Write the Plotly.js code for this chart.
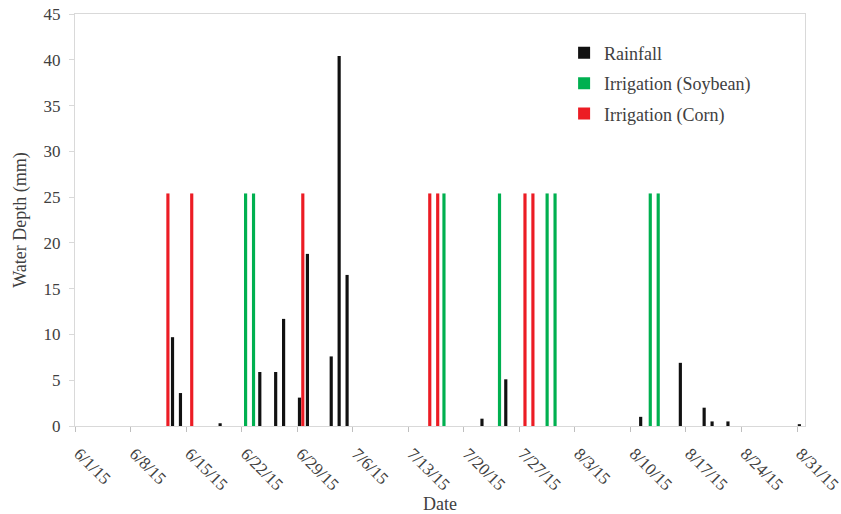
<!DOCTYPE html>
<html>
<head>
<meta charset="utf-8">
<script src="https://cdn.plot.ly/plotly-3.0.1.min.js"></script>
<style>html,body{margin:0;padding:0;background:#fff;}#chart{width:841px;height:514px;}</style>
</head>
<body>
<div id="chart"></div>
<script>
// Data (water depth in mm)
const rainDates = ['2015-06-13','2015-06-14','2015-06-19','2015-06-24','2015-06-26','2015-06-27','2015-06-29','2015-06-30','2015-07-03','2015-07-04','2015-07-05','2015-07-22','2015-07-25','2015-08-11','2015-08-16','2015-08-19','2015-08-20','2015-08-22','2015-08-31'];
const rainMm = [9.7,3.6,0.3,5.9,5.9,11.7,3.1,18.8,7.6,40.4,16.5,0.8,5.1,1.0,6.9,2.0,0.5,0.5,0.2];
const soyDates = ['2015-06-22','2015-06-23','2015-07-17','2015-07-24','2015-07-30','2015-07-31','2015-08-12','2015-08-13'];
const soyMm = [25.4,25.4,25.4,25.4,25.4,25.4,25.4,25.4];
const cornDates = ['2015-06-12','2015-06-15','2015-06-29','2015-07-15','2015-07-16','2015-07-27','2015-07-28'];
const cornMm = [25.4,25.4,25.4,25.4,25.4,25.4,25.4];
const tickDates = ['2015-06-01','2015-06-08','2015-06-15','2015-06-22','2015-06-29','2015-07-06','2015-07-13','2015-07-20','2015-07-27','2015-08-03','2015-08-10','2015-08-17','2015-08-24','2015-08-31'];
const tickLabels = ['6/1/15','6/8/15','6/15/15','6/22/15','6/29/15','7/6/15','7/13/15','7/20/15','7/27/15','8/3/15','8/10/15','8/17/15','8/24/15','8/31/15'];

const DAY = 86400000;
const BW = 0.4 * DAY;
const FONT = 'Liberation Serif, Times New Roman, serif';
const TXT = '#404040';

const traces = [
  {type:'bar', name:'Rainfall', x:rainDates, y:rainMm, width:BW, offset:0.29*DAY - BW/2,
   marker:{color:'#111111'}, legendgroup:'a'},
  {type:'bar', name:'Irrigation (Soybean)', x:soyDates, y:soyMm, width:BW, offset:0.50*DAY - BW/2,
   marker:{color:'#00b050'}, legendgroup:'b'},
  {type:'bar', name:'Irrigation (Corn)', x:cornDates, y:cornMm, width:BW, offset:0.71*DAY - BW/2,
   marker:{color:'#ec1c24'}, legendgroup:'c'}
];

const layout = {
  width:841, height:514,
  margin:{l:75, r:36, t:14, b:88},
  paper_bgcolor:'#ffffff', plot_bgcolor:'#ffffff',
  barmode:'overlay',
  font:{family:FONT, size:17, color:TXT},
  showlegend:true,
  legend:{x:0.67, y:0.95, xanchor:'left', yanchor:'top', traceorder:'grouped', tracegroupgap:4,
          font:{family:FONT, size:18, color:TXT}, bgcolor:'rgba(0,0,0,0)'},
  xaxis:{type:'date', range:['2015-06-01','2015-09-01'], tickmode:'array', tickvals:tickDates, ticktext:tickLabels,
         tickangle:45, ticks:'outside', ticklen:5, tickcolor:'#bfbfbf', showline:true, linecolor:'#d9d9d9', mirror:true,
         showgrid:false, zeroline:false, ticklabelstandoff:5, ticklabelshift:4, ticklabeloverflow:'allow',
         tickfont:{family:FONT, size:17, color:TXT},
         title:{text:'Date', font:{family:FONT, size:18, color:TXT}, standoff:8}},
  yaxis:{range:[0,45], dtick:5, tick0:0, ticks:'outside', ticklen:5, tickcolor:'#d9d9d9', showline:true, linecolor:'#d9d9d9', mirror:true,
         showgrid:false, zeroline:false, ticklabelstandoff:5, tickfont:{family:FONT, size:17, color:TXT},
         title:{text:'Water Depth (mm)', font:{family:FONT, size:18, color:TXT}, standoff:12}}
};

Plotly.newPlot('chart', traces, layout, {displayModeBar:false, staticPlot:true});
</script>
</body>
</html>
